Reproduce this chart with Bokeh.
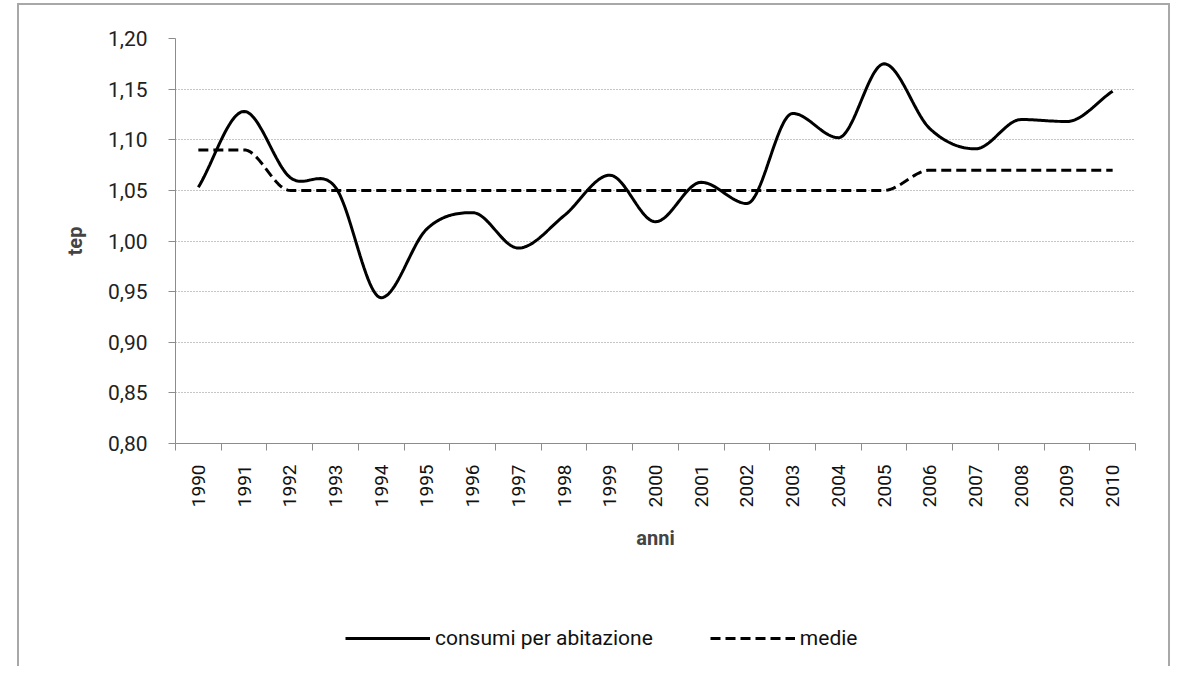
import math
import numpy as np
from bokeh.plotting import figure
from bokeh.layouts import column, row
from bokeh.models import (Range1d, FixedTicker, Legend, LegendItem, Spacer)
from bokeh.embed import file_html
from bokeh.resources import INLINE

# ---- data ----
anni = [1990, 1991, 1992, 1993, 1994, 1995, 1996, 1997, 1998, 1999, 2000,
        2001, 2002, 2003, 2004, 2005, 2006, 2007, 2008, 2009, 2010]
consumi = [1.053, 1.128, 1.063, 1.053, 0.944, 1.012, 1.028, 0.993, 1.025, 1.065, 1.019,
           1.058, 1.037, 1.126, 1.102, 1.175, 1.111, 1.091, 1.120, 1.118, 1.148]
medie = [1.09, 1.09, 1.05, 1.05, 1.05, 1.05, 1.05, 1.05, 1.05, 1.05, 1.05,
         1.05, 1.05, 1.05, 1.05, 1.05, 1.07, 1.07, 1.07, 1.07, 1.07]
y_ticks = [0.80, 0.85, 0.90, 0.95, 1.00, 1.05, 1.10, 1.15, 1.20]
y_labels = ["0,80", "0,85", "0,90", "0,95", "1,00", "1,05", "1,10", "1,15", "1,20"]
serie = ["consumi per abitazione", "medie"]

FONT = "Roboto"
BORDER = "2px solid #a8a8a8"


def smooth(vals, n=24):
    """Smoothed line through the points (cubic Hermite, flat at extrema/plateaus)."""
    y = np.asarray(vals, dtype=float)
    k = len(y)
    m = np.zeros(k)
    for i in range(k):
        if i == 0:
            m[i] = y[1] - y[0]
        elif i == k - 1:
            m[i] = y[-1] - y[-2]
        else:
            d0, d1 = y[i] - y[i - 1], y[i + 1] - y[i]
            m[i] = 0.0 if d0 * d1 <= 0 else (y[i + 1] - y[i - 1]) / 2.0
    xs, ys = [], []
    for i in range(k - 1):
        t = np.linspace(0, 1, n, endpoint=(i == k - 2))
        h00 = 2 * t**3 - 3 * t**2 + 1
        h10 = t**3 - 2 * t**2 + t
        h01 = -2 * t**3 + 3 * t**2
        h11 = t**3 - t**2
        xs.extend(i + t)
        ys.extend(h00 * y[i] + h10 * m[i] + h01 * y[i + 1] + h11 * m[i + 1])
    return xs, ys


W = 1153
H1 = 563
H2 = 100
p = figure(width=W, height=H1, output_backend="svg", toolbar_location=None,
           x_range=Range1d(-0.5, len(anni) - 0.5), y_range=Range1d(0.80, 1.20),
           min_border_left=156, min_border_top=33, min_border_right=37, min_border_bottom=125)
p.styles = {"border-top": BORDER, "border-left": BORDER, "border-right": BORDER}
p.outline_line_color = None
p.background_fill_color = "white"
p.border_fill_color = "white"

# grid
p.xgrid.visible = False
p.ygrid.ticker = FixedTicker(ticks=y_ticks)
p.ygrid.grid_line_color = "#8c8c8c"
p.ygrid.grid_line_dash = "1 2"
p.ygrid.grid_line_width = 1

# y axis
p.yaxis.ticker = FixedTicker(ticks=y_ticks)
p.yaxis.major_label_overrides = {t: l for t, l in zip(y_ticks, y_labels)}
p.yaxis.axis_line_color = "#8c8c8c"
p.yaxis.major_tick_line_color = "#8c8c8c"
p.yaxis.major_tick_out = 7
p.yaxis.major_tick_in = 0
p.yaxis.minor_tick_line_color = None
p.yaxis.major_label_text_font = FONT
p.yaxis.major_label_text_font_size = "21px"
p.yaxis.major_label_text_color = "#222222"
p.yaxis.major_label_standoff = 21
p.yaxis.axis_label = "tep"
p.yaxis.axis_label_text_font = FONT
p.yaxis.axis_label_text_font_style = "bold"
p.yaxis.axis_label_text_font_size = "20px"
p.yaxis.axis_label_standoff = 18

# x axis
idx = list(range(len(anni)))
p.xaxis.ticker = FixedTicker(ticks=idx, minor_ticks=[i - 0.5 for i in range(len(anni) + 1)])
p.xaxis.major_label_overrides = {i: str(a) for i, a in zip(idx, anni)}
p.xaxis.major_label_orientation = math.pi / 2
p.xaxis.axis_line_color = "#8c8c8c"
p.xaxis.major_tick_out = 0
p.xaxis.major_tick_in = 0
p.xaxis.minor_tick_line_color = "#8c8c8c"
p.xaxis.minor_tick_out = 7
p.xaxis.minor_tick_in = 0
p.xaxis.major_label_text_font = FONT
p.xaxis.major_label_text_font_size = "19px"
p.xaxis.major_label_text_color = "#111111"
p.xaxis.major_label_standoff = 14
p.xaxis.axis_label = "anni"
p.xaxis.axis_label_text_font = FONT
p.xaxis.axis_label_text_font_style = "bold"
p.xaxis.axis_label_text_font_size = "20px"
p.xaxis.axis_label_standoff = 16

# lines
cx, cy = smooth(consumi)
mx, my = smooth(medie)
p.line(cx, cy, line_color="black", line_width=3)
p.line(mx, my, line_color="black", line_width=3, line_dash="10 5")

# legend strip below the chart; its lines repeat the series' styles but lie
# outside this strip's ranges, so only their legend samples are drawn
q = figure(width=W, height=H2, output_backend="svg", toolbar_location=None,
           x_range=Range1d(100, 101), y_range=Range1d(100, 101),
           x_axis_type=None, y_axis_type=None,
           min_border_left=0, min_border_right=0, min_border_top=0, min_border_bottom=0)
q.styles = {"border-left": BORDER, "border-right": BORDER}
q.outline_line_color = None
q.xgrid.visible = False
q.ygrid.visible = False
q.border_fill_color = "white"
q.background_fill_color = "white"
l1 = q.line(idx, consumi, line_color="black", line_width=3)
l2 = q.line(idx, medie, line_color="black", line_width=3, line_dash="10 5")
legend = Legend(items=[LegendItem(label=serie[0], renderers=[l1]),
                       LegendItem(label=serie[1], renderers=[l2])],
                orientation="horizontal", location=(170, 16),
                glyph_width=85, glyph_height=20, spacing=57, label_standoff=5,
                label_text_font=FONT, label_text_font_size="21px",
                label_text_color="#111111",
                border_line_color=None, background_fill_alpha=0)
q.add_layout(legend, "center")

layout = column(Spacer(height=3),
                row(Spacer(width=17), column(p, q, spacing=0), spacing=0),
                spacing=0)
open("out.html", "w").write(file_html(layout, INLINE))
